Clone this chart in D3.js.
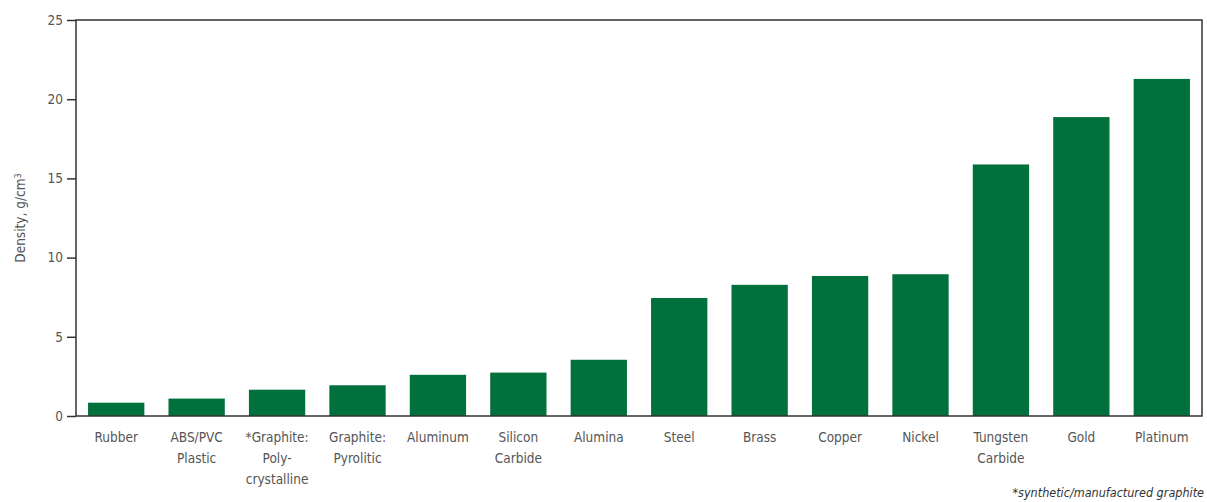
<!DOCTYPE html>
<html>
<head>
<meta charset="utf-8">
<script src="https://cdn.jsdelivr.net/npm/d3@7"></script>
<style>
body { margin: 0; background: #fff; }
text { font-family: "DejaVu Sans Condensed", "DejaVu Sans", sans-serif; }
</style>
</head>
<body>
<svg id="density-chart"></svg>
<script>
// material density bar chart

// data
var materials = ["Rubber", "ABS/PVC\nPlastic", "*Graphite:\nPoly-\ncrystalline", "Graphite:\nPyrolitic",
  "Aluminum", "Silicon\nCarbide", "Alumina", "Steel", "Brass", "Copper", "Nickel",
  "Tungsten\nCarbide", "Gold", "Platinum"];
var density = [0.84, 1.1, 1.66, 1.94, 2.6, 2.74, 3.55, 7.45, 8.28, 8.84, 8.95, 15.88, 18.87, 21.28];
var yTicks = [0, 5, 10, 15, 20, 25];
var yTitle = "Density, g/cm";
var footnote = "*synthetic/manufactured graphite";

//dimensions and margins of the graph
var w = 1207, h = 502;
var margin = {top:20, right:5, bottom:86, left:76},
width = w - margin.left - margin.right,
height = h - margin.top - margin.bottom;

var svg = d3.select("#density-chart")
.attr("width", w)
.attr("height", h);

var g = svg.append("g")
.attr("transform", "translate(" + margin.left + "," + margin.top + ")");

// scales
var x = d3.scaleBand()
.domain(materials)
.range([0, width])
.paddingInner(0.3)
.paddingOuter(0.15);

var y = d3.scaleLinear()
.domain([0, 25])
.range([height, 0]);

// bars
g.selectAll("rect.bar")
.data(materials)
.enter()
.append("rect")
.attr("class", "bar")
.attr("x", function(d){ return x(d); })
.attr("y", function(d, i){ return y(density[i]); })
.attr("width", x.bandwidth())
.attr("height", function(d, i){ return height - y(density[i]); })
.attr("fill", "#00703c");

// frame around plot
g.append("rect")
.attr("x", 0)
.attr("y", 0)
.attr("width", width)
.attr("height", height)
.attr("fill", "none")
.attr("stroke", "#333")
.attr("stroke-width", 1.5);

// y axis
var yAxis = g.append("g")
.call(d3.axisLeft(y).tickValues(yTicks).tickSize(9).tickPadding(4));
yAxis.select(".domain").remove();
yAxis.selectAll("line").attr("stroke", "#333").attr("stroke-width", 1.5);
yAxis.selectAll("text")
.style("font-size", "13.5px")
.attr("fill", "#555");

// x axis labels (multi line)
var xAxis = g.append("g")
.attr("transform", "translate(0," + height + ")")
.call(d3.axisBottom(x).tickSize(0).tickPadding(16));
xAxis.select(".domain").remove();
xAxis.selectAll("text")
.style("font-size", "13.5px")
.attr("fill", "#555")
.each(function(d){
  var t = d3.select(this);
  var lines = d.split("\n");
  t.text(null);
  lines.forEach(function(l, i){
    t.append("tspan")
    .attr("x", 0)
    .attr("dy", i == 0 ? "0.71em" : "1.58em")
    .text(l);
  });
});

// y title
var title = svg.append("text")
.attr("transform", "translate(25," + (margin.top + height / 2) + ")rotate(-90)")
.attr("text-anchor", "middle")
.style("font-size", "13.5px")
.attr("fill", "#555")
.text(yTitle);
title.append("tspan")
.attr("dy", "-0.5em")
.style("font-size", "9px")
.text("3");

// footnote
svg.append("text")
.attr("x", 1204)
.attr("y", 497)
.attr("text-anchor", "end")
.style("font-size", "12.5px")
.style("font-style", "italic")
.attr("fill", "#333")
.text(footnote);
</script>
</body>
</html>
